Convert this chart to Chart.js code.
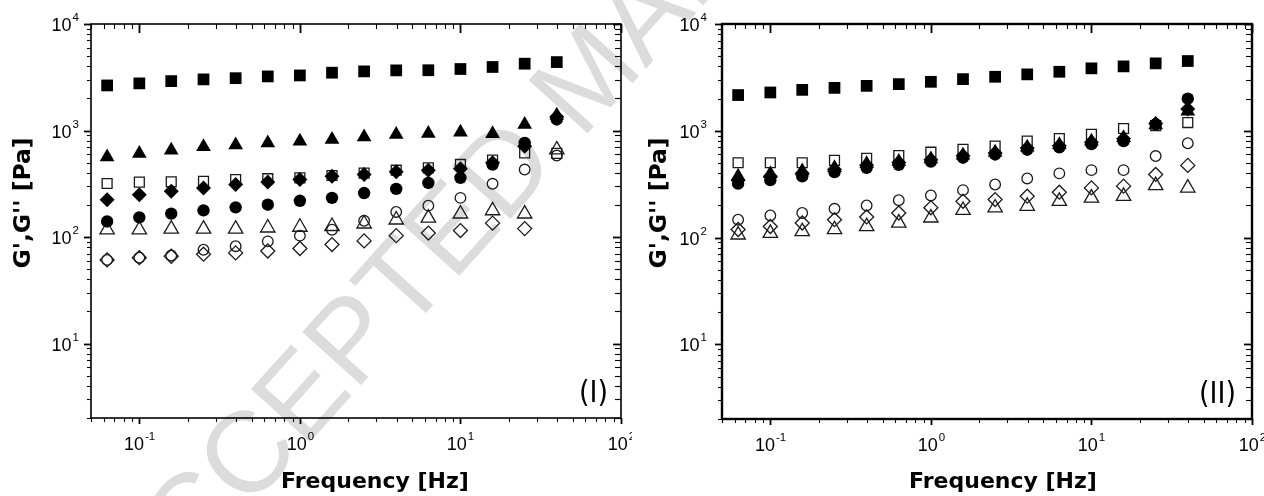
<!DOCTYPE html>
<html>
<head>
<meta charset="utf-8">
<script src="https://cdn.jsdelivr.net/npm/chart.js@4.4.0/dist/chart.umd.min.js"></script>
<style>
  html, body { margin: 0; padding: 0; background: #fff; }
  #page { position: relative; width: 1264px; height: 496px; overflow: hidden; }
  .panel { position: absolute; top: 0; z-index: 1; }
  #stamp { position: absolute; left: 350px; top: 336px; width: 0; height: 0; z-index: 0; }
  #stamp span {
    position: absolute; left: 0; top: 0; white-space: nowrap;
    font: 115px/1 "Liberation Sans", Arial, sans-serif; color: #dcdcdc;
    transform-origin: 0 0; transform: rotate(-48deg) translate(-358px, -56px);
  }
</style>
</head>
<body>
<div id="page">
  <div id="stamp"><span>ACCEPTED MANUSCRIPT</span></div>
  <canvas id="chartI" class="panel" style="left:0" width="632" height="496"></canvas>
  <canvas id="chartII" class="panel" style="left:632px" width="632" height="496"></canvas>
</div>
<script>
"use strict";
// frequency sweep [Hz]
const freq = [0.063, 0.1, 0.158, 0.251, 0.398, 0.631, 1, 1.585, 2.512, 3.981, 6.31, 10, 15.85, 25.12, 39.81];

// panel (I)
const sqFilledI   = [2650, 2770, 2910, 3020, 3100, 3220, 3290, 3490, 3590, 3670, 3680, 3780, 3950, 4240, 4390];
const triFilledI  = [565, 608, 653, 703, 733, 765, 794, 823, 871, 917, 937, 964, 930, 1138, 1390];
const diaFilledI  = [224, 250, 269, 289, 311, 329, 346, 372, 386, 409, 424, 437, 497, 711, 1350];
const circFilledI = [140, 153, 166, 178, 190, 201, 219, 233, 259, 283, 322, 359, 479, 765, 1270];
const sqOpenI     = [318, 328, 330, 334, 346, 353, 360, 378, 398, 424, 446, 480, 528, 617, 610];
const triOpenI    = [117, 117, 119, 119, 119, 122, 124, 126, 133, 145, 151, 165, 177, 165, 660];
const circOpenI   = [61, 64, 67, 76, 82, 91, 103, 117, 142, 172, 197, 233, 316, 430, 582];
const diaOpenI    = [61, 64, 66, 69, 71, 74, 78, 85, 92, 103, 109, 115, 135, 120, null];

// panel (II)
const sqFilledII   = [2160, 2285, 2417, 2522, 2635, 2735, 2875, 3047, 3205, 3375, 3570, 3843, 4010, 4280, 4500];
const triFilledII  = [375, 395, 420, 450, 490, 515, 545, 590, 630, 700, 740, 800, 860, 1130, 1520];
const diaFilledII  = [345, 375, 400, 435, 475, 505, 535, 585, 620, 690, 725, 780, 840, 1170, 1600];
const circFilledII = [320, 345, 375, 410, 450, 480, 515, 560, 600, 665, 700, 750, 800, 1150, 2000];
const sqOpenII     = [502, 502, 502, 528, 552, 585, 630, 670, 719, 800, 845, 927, 1050, 1120, 1194];
const circOpenII   = [147, 161, 170, 186, 200, 224, 248, 278, 314, 358, 399, 428, 428, 580, 764];
const diaOpenII    = [119, 127, 137, 147, 156, 170, 190, 219, 227, 244, 266, 292, 303, 390, 474];
const triOpenII    = [106, 110, 114, 119, 127, 137, 153, 180, 190, 197, 219, 235, 244, 308, 292];

const xRange = [0.05, 100];
const yRange = [2, 10000];

function pts(vals) {
  return freq.map((f, i) => ({x: f, y: vals[i]})).filter(p => p.y != null);
}

function filled(vals, style, r) {
  return {data: pts(vals), pointStyle: style, pointRadius: r, backgroundColor: '#000',
    borderColor: '#000', borderWidth: 0, showLine: false};
}

function open(vals, style, r) {
  return {data: pts(vals), pointStyle: style, pointRadius: r, backgroundColor: 'rgba(0,0,0,0)',
    borderColor: '#1a1a1a', borderWidth: 1.3, showLine: false};
}

function logTicks(min, max) {
  const out = [];
  for (let e = Math.floor(Math.log10(min)); e <= Math.ceil(Math.log10(max)); e++) {
    for (let m = 1; m < 10; m++) {
      const v = m * Math.pow(10, e);
      if (v >= min * 0.999 && v <= max * 1.001) out.push({v: v, major: m === 1, e: e});
    }
  }
  return out;
}

function seg(ctx, x1, y1, x2, y2) {
  ctx.beginPath(); ctx.moveTo(x1, y1); ctx.lineTo(x2, y2); ctx.stroke();
}

const baseFont = '18px "Liberation Sans Narrow", "Liberation Sans"';
const supFont = '11.5px "Liberation Sans Narrow", "Liberation Sans"';
let squeeze = null;

function powLabel(ctx, x, y, e, align) {
  // x: centre (align 'center') or right edge (align 'right'); y: baseline of "10"
  if (squeeze === null) {
    // narrow face missing -> compress the regular one a little
    ctx.font = '18px "Liberation Sans Narrow"';
    const wn = ctx.measureText('10').width;
    ctx.font = '18px "Liberation Sans"';
    squeeze = wn < ctx.measureText('10').width - 1 ? 1 : 0.88;
  }
  const sup = String(e);
  ctx.font = baseFont;
  const w1 = ctx.measureText('10').width * squeeze;
  ctx.font = supFont;
  const w2 = ctx.measureText(sup).width * squeeze;
  const total = w1 + 1 + w2;
  const left = align === 'center' ? x - total / 2 : x - total;
  ctx.save();
  ctx.translate(left, y);
  ctx.scale(squeeze, 1);
  ctx.textAlign = 'left';
  ctx.textBaseline = 'alphabetic';
  ctx.font = baseFont;
  ctx.fillText('10', 0, 0);
  ctx.font = supFont;
  ctx.fillText(sup, (w1 + 1) / squeeze, -10);
  ctx.restore();
}

const axisDecor = {
  id: 'axisDecor',
  afterDraw(chart, args, o) {
    const ctx = chart.ctx, a = chart.chartArea;
    const xs = chart.scales.x, ys = chart.scales.y;
    ctx.save();
    ctx.strokeStyle = '#000';
    ctx.fillStyle = '#000';

    logTicks(xRange[0], xRange[1]).forEach(t => {
      const p = Math.round(xs.getPixelForValue(t.v)) + 0.5;
      ctx.lineWidth = t.major ? 1.8 : 1.1;
      seg(ctx, p, a.bottom, p, a.bottom + (t.major ? 6 : 4));
      seg(ctx, p, a.top, p, a.top + (t.major ? 9 : 5));
      if (t.major) powLabel(ctx, p, a.bottom + 32, t.e, 'center');
    });
    logTicks(yRange[0], yRange[1]).forEach(t => {
      const p = Math.round(ys.getPixelForValue(t.v)) + 0.5;
      ctx.lineWidth = t.major ? 1.8 : 1.1;
      seg(ctx, a.left - (t.major ? 7 : 4), p, a.left, p);
      seg(ctx, a.right - (t.major ? 8 : 6), p, a.right, p);
      if (t.major) powLabel(ctx, a.left - o.yLabelGap, p + 6.5, t.e, 'right');
    });

    ctx.lineWidth = o.frame;
    ctx.strokeRect(a.left, a.top, a.right - a.left, a.bottom - a.top);

    ctx.font = 'bold 22px "DejaVu Sans"';
    ctx.textAlign = 'center';
    ctx.textBaseline = 'alphabetic';
    ctx.fillText('Frequency [Hz]', (a.left + a.right) / 2 + o.xTitleShift, 488);

    ctx.save();
    ctx.translate(o.yTitleX, 203);
    ctx.rotate(-Math.PI / 2);
    ctx.font = 'bold 23.5px "DejaVu Sans"';
    ctx.textBaseline = 'middle';
    ctx.fillText("G',G'' [Pa]", 0, 0);
    ctx.restore();

    ctx.font = '30px "DejaVu Sans Condensed", "DejaVu Sans"';
    ctx.textAlign = 'right';
    ctx.textBaseline = 'alphabetic';
    ctx.fillText(o.tag, a.right - o.tagRight, a.bottom - 16);
    ctx.restore();
  }
};

function makeChart(id, sets, pad, xHeight, yWidth, decor) {
  return new Chart(document.getElementById(id), {
    type: 'scatter',
    plugins: [axisDecor],
    data: {datasets: sets},
    options: {
      responsive: false,
      animation: false,
      events: [],
      layout: {padding: pad},
      plugins: {legend: {display: false}, tooltip: {enabled: false}, axisDecor: decor},
      scales: {
        x: {type: 'logarithmic', min: xRange[0], max: xRange[1],
          grid: {display: false}, border: {display: false}, ticks: {display: false},
          afterFit: s => { s.height = xHeight; }},
        y: {type: 'logarithmic', min: yRange[0], max: yRange[1],
          grid: {display: false}, border: {display: false}, ticks: {display: false},
          afterFit: s => { s.width = yWidth; }}
      }
    }
  });
}

makeChart('chartI', [
  filled(sqFilledI, 'rect', 8.3),
  filled(triFilledI, 'triangle', 8.5),
  filled(diaFilledI, 'rectRot', 7.5),
  filled(circFilledI, 'circle', 6.2),
  open(sqOpenI, 'rect', 7),
  open(triOpenI, 'triangle', 8.3),
  open(circOpenI, 'circle', 5.3),
  open(diaOpenI, 'rectRot', 7)
], {left: 0, right: 11, top: 24, bottom: 0}, 78, 91,
  {frame: 1.6, yLabelGap: 12, xTitleShift: 19, yTitleX: 24, tag: '(I)', tagRight: 13});

makeChart('chartII', [
  filled(sqFilledII, 'rect', 8.3),
  filled(triFilledII, 'triangle', 8.5),
  filled(diaFilledII, 'rectRot', 7.5),
  filled(circFilledII, 'circle', 6.2),
  open(sqOpenII, 'rect', 7),
  open(circOpenII, 'circle', 5.3),
  open(diaOpenII, 'rectRot', 7),
  open(triOpenII, 'triangle', 8.3)
], {left: 0, right: 12, top: 24, bottom: 0}, 77, 90,
  {frame: 2.4, yLabelGap: 15, xTitleShift: 16, yTitleX: 28, tag: '(II)', tagRight: 16});
</script>
</body>
</html>
